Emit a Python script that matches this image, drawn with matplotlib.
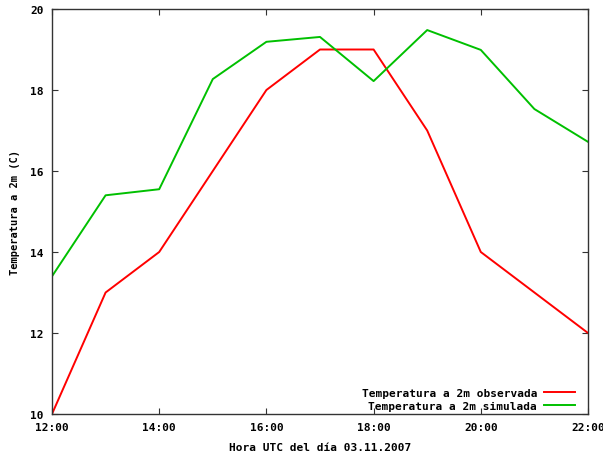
import matplotlib
matplotlib.use("Agg")
import matplotlib.pyplot as plt

# Hours (UTC) on 03.11.2007
hours = [12, 13, 14, 15, 16, 17, 18, 19, 20, 21, 22]
observed = [10, 13, 14, 16, 18, 19, 19, 17, 14, 13, 12]
simulated = [13.4, 15.4, 15.55, 18.27, 19.19, 19.31, 18.22, 19.48, 18.99, 17.53, 16.72]

xticks = [12, 14, 16, 18, 20, 22]
xticklabels = ["12:00", "14:00", "16:00", "18:00", "20:00", "22:00"]
yticks = [10, 12, 14, 16, 18, 20]

plt.rcParams["font.family"] = "DejaVu Sans Mono"
plt.rcParams["font.weight"] = "bold"
plt.rcParams["axes.labelweight"] = "bold"
plt.rcParams["font.size"] = 8

fig = plt.figure(figsize=(6.03, 4.56), dpi=100)
ax = fig.add_axes([52 / 603, 1 - 415 / 456, 536 / 603, 405 / 456])

ax.plot(hours, observed, color="#ff0000", linewidth=1.4, label="Temperatura a 2m observada")
ax.plot(hours, simulated, color="#00c000", linewidth=1.4, label="Temperatura a 2m simulada")

ax.set_xlim(12, 22)
ax.set_ylim(10, 20)
ax.set_xticks(xticks)
ax.set_xticklabels(xticklabels)
ax.set_yticks(yticks)

for s in ax.spines.values():
    s.set_color("#333333")
    s.set_linewidth(1.0)
ax.tick_params(direction="in", length=4, width=0.8, color="#333333",
               top=True, right=True, pad=6)

ax.set_xlabel("Hora UTC del día 03.11.2007", labelpad=7)
ax.set_ylabel("Temperatura a 2m (C)", labelpad=7, fontsize=7.5)

# gnuplot-style key: text first, sample line after
ax.legend(loc="lower right", frameon=False, markerfirst=False,
          handlelength=2.8, handletextpad=0.6, labelspacing=0.3,
          borderaxespad=0.0, bbox_to_anchor=(0.984, -0.004))

fig.savefig("out.png", dpi=100)
